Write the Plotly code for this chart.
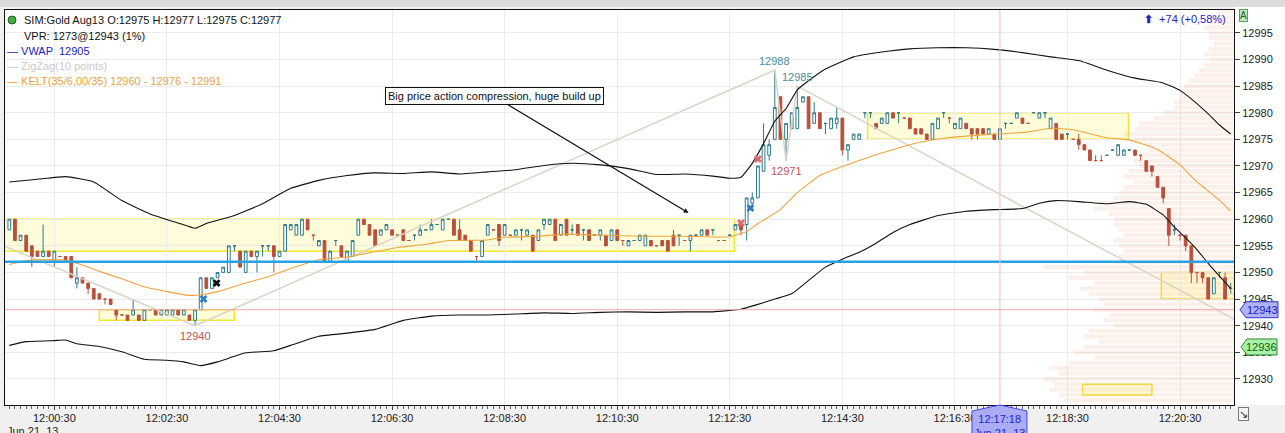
import pandas as pd
import plotly.graph_objects as go

DAY = "2013-06-21 "
START = pd.Timestamp(DAY + "11:59:42")
STEP = pd.Timedelta(seconds=6)

# 6 second bars, SIM:Gold Aug13
opens = [
    12958, 12960, 12956, 12957, 12955, 12954, 12953, 12954, 12952, 12953,
    12953, 12953, 12948, 12949, 12948, 12947, 12946, 12945, 12945, 12943,
    12942, 12942, 12942, 12942, 12941, 12943, 12943, 12942, 12942, 12942,
    12943, 12942, 12942, 12941, 12943, 12949, 12947, 12949, 12950, 12950,
    12955, 12954, 12950, 12954, 12953, 12955, 12955, 12955, 12953, 12954,
    12958, 12957, 12957, 12960, 12957, 12955, 12956, 12952, 12956, 12955,
    12952, 12953, 12957, 12960, 12959, 12958, 12957, 12958, 12958, 12957,
    12958, 12956, 12957, 12957, 12958, 12958, 12959, 12958, 12960, 12960,
    12958, 12957, 12956, 12953, 12953, 12957, 12958, 12959, 12957, 12957,
    12957, 12958, 12957, 12957, 12956, 12959, 12959, 12960, 12957, 12960,
    12958, 12959, 12958, 12958, 12957, 12957, 12957, 12956, 12958, 12956,
    12955, 12956, 12956, 12955, 12956, 12955, 12956, 12956, 12957, 12957,
    12956, 12956, 12957, 12957, 12958, 12958, 12956, 12956, 12957, 12958,
    12959, 12959, 12963, 12964, 12969, 12972, 12975, 12983, 12975, 12977,
    12977, 12982, 12983, 12978, 12980, 12978, 12977, 12978, 12979, 12973,
    12975, 12975, 12980, 12980, 12978, 12978, 12978, 12980, 12980, 12979,
    12979, 12977, 12977, 12976, 12975, 12977, 12980, 12979, 12977, 12977,
    12978, 12977, 12977, 12977, 12976, 12976, 12975, 12978, 12978, 12979,
    12979, 12978, 12980, 12979, 12980, 12977, 12978, 12976, 12976, 12975,
    12975, 12974, 12973, 12971, 12971, 12972, 12973, 12972, 12972, 12973,
    12973, 12972, 12971, 12970, 12968, 12966, 12962, 12958, 12957, 12957,
    12955, 12950, 12950, 12949, 12946, 12950, 12949, 12947,
]
highs = [
    12960, 12960, 12957, 12957, 12955, 12954, 12959, 12954, 12954, 12953,
    12953, 12953, 12951, 12949, 12948, 12947, 12946, 12945, 12945, 12943,
    12942, 12942, 12945, 12942, 12943, 12943, 12943, 12943, 12943, 12943,
    12943, 12943, 12942, 12943, 12949, 12949, 12949, 12950, 12951, 12955,
    12955, 12954, 12954, 12954, 12954, 12955, 12955, 12955, 12954, 12959,
    12959, 12959, 12960, 12960, 12957, 12956, 12956, 12954, 12956, 12955,
    12954, 12956, 12960, 12960, 12959, 12958, 12958, 12959, 12958, 12957,
    12958, 12956, 12957, 12959, 12958, 12960, 12959, 12960, 12960, 12960,
    12960, 12957, 12956, 12953, 12956, 12959, 12958, 12959, 12959, 12957,
    12958, 12958, 12958, 12957, 12958, 12960, 12960, 12960, 12959, 12960,
    12959, 12959, 12958, 12958, 12957, 12958, 12957, 12958, 12958, 12956,
    12956, 12956, 12957, 12957, 12956, 12955, 12956, 12956, 12958, 12957,
    12956, 12957, 12957, 12958, 12958, 12958, 12956, 12956, 12957, 12959,
    12959, 12964, 12965, 12970, 12978, 12975, 12988, 12983, 12978, 12980,
    12985, 12983, 12983, 12982, 12980, 12978, 12979, 12981, 12979, 12974,
    12976, 12976, 12980, 12980, 12978, 12979, 12980, 12980, 12980, 12979,
    12979, 12977, 12977, 12976, 12978, 12979, 12980, 12979, 12978, 12979,
    12978, 12977, 12977, 12977, 12977, 12976, 12977, 12978, 12978, 12980,
    12979, 12978, 12980, 12980, 12980, 12979, 12978, 12976, 12976, 12975,
    12976, 12974, 12973, 12972, 12972, 12972, 12973, 12974, 12973, 12973,
    12973, 12972, 12971, 12970, 12968, 12966, 12962, 12959, 12957, 12957,
    12955, 12950, 12950, 12949, 12949, 12950, 12950, 12948,
]
lows = [
    12958, 12956, 12956, 12954, 12951, 12953, 12953, 12953, 12951, 12953,
    12952, 12949, 12947, 12948, 12946, 12945, 12945, 12944, 12944, 12941,
    12942, 12941, 12942, 12941, 12941, 12943, 12942, 12942, 12942, 12942,
    12942, 12942, 12941, 12940, 12943, 12947, 12947, 12949, 12950, 12950,
    12954, 12951, 12950, 12953, 12950, 12953, 12954, 12950, 12953, 12954,
    12958, 12957, 12957, 12958, 12956, 12955, 12952, 12952, 12955, 12953,
    12952, 12953, 12957, 12959, 12957, 12955, 12957, 12958, 12957, 12957,
    12956, 12956, 12956, 12957, 12958, 12958, 12959, 12958, 12960, 12957,
    12956, 12956, 12954, 12952, 12953, 12957, 12958, 12955, 12957, 12957,
    12957, 12956, 12957, 12954, 12956, 12958, 12959, 12956, 12957, 12957,
    12957, 12957, 12956, 12956, 12957, 12956, 12955, 12956, 12956, 12955,
    12955, 12956, 12956, 12955, 12955, 12955, 12955, 12954, 12955, 12955,
    12956, 12954, 12957, 12957, 12957, 12957, 12956, 12956, 12957, 12958,
    12957, 12956, 12962, 12964, 12969, 12971, 12975, 12975, 12971, 12977,
    12977, 12982, 12977, 12978, 12977, 12976, 12977, 12977, 12972, 12971,
    12975, 12975, 12979, 12979, 12977, 12978, 12978, 12979, 12978, 12979,
    12977, 12976, 12976, 12975, 12975, 12977, 12979, 12978, 12977, 12977,
    12977, 12975, 12975, 12976, 12976, 12975, 12975, 12977, 12978, 12979,
    12978, 12978, 12980, 12979, 12979, 12977, 12975, 12975, 12975, 12975,
    12973, 12973, 12971, 12971, 12971, 12972, 12973, 12972, 12972, 12973,
    12972, 12971, 12969, 12968, 12966, 12963, 12955, 12957, 12956, 12954,
    12948, 12948, 12948, 12945, 12946, 12949, 12945, 12946,
]
closes = [
    12960, 12956, 12957, 12954, 12953, 12953, 12954, 12953, 12954, 12953,
    12952, 12949, 12949, 12948, 12947, 12945, 12945, 12945, 12944, 12942,
    12942, 12941, 12943, 12941, 12943, 12943, 12942, 12943, 12943, 12943,
    12942, 12943, 12941, 12943, 12949, 12947, 12949, 12950, 12951, 12955,
    12955, 12951, 12954, 12953, 12954, 12955, 12955, 12953, 12954, 12959,
    12959, 12959, 12960, 12958, 12957, 12956, 12952, 12954, 12956, 12953,
    12954, 12956, 12960, 12959, 12957, 12955, 12958, 12959, 12957, 12957,
    12956, 12956, 12957, 12958, 12958, 12959, 12959, 12960, 12960, 12957,
    12956, 12956, 12954, 12953, 12956, 12959, 12958, 12956, 12959, 12957,
    12958, 12958, 12958, 12954, 12958, 12960, 12960, 12956, 12959, 12957,
    12958, 12957, 12958, 12956, 12957, 12958, 12955, 12958, 12956, 12956,
    12956, 12956, 12957, 12957, 12955, 12955, 12955, 12954, 12955, 12957,
    12956, 12957, 12957, 12958, 12957, 12958, 12956, 12956, 12957, 12959,
    12958, 12964, 12964, 12970, 12974, 12974, 12981, 12975, 12978, 12980,
    12981, 12983, 12977, 12980, 12977, 12978, 12979, 12979, 12973, 12974,
    12976, 12976, 12980, 12980, 12977, 12979, 12980, 12979, 12980, 12979,
    12977, 12976, 12976, 12975, 12978, 12979, 12980, 12979, 12978, 12979,
    12977, 12976, 12976, 12976, 12977, 12975, 12977, 12978, 12978, 12980,
    12978, 12978, 12980, 12980, 12980, 12979, 12975, 12975, 12976, 12975,
    12974, 12973, 12971, 12971, 12971, 12972, 12973, 12974, 12973, 12973,
    12972, 12972, 12969, 12969, 12966, 12964, 12957, 12958, 12957, 12955,
    12950, 12950, 12949, 12945, 12949, 12950, 12945, 12947,
]

# Keltner channel (35/6.00/35), sampled at bar indices
upper_bars = [0, 5, 10, 15, 20, 25, 30, 33, 35, 40, 45, 50, 55, 60, 65, 70, 75, 80,
              85, 90, 95, 100, 105, 110, 115, 120, 125, 128, 130, 132, 134, 136, 138,
              140, 142, 145, 150, 155, 160, 165, 170, 175, 180, 185, 190, 195, 200,
              205, 208, 210, 213, 215, 217]
upper_vals = [12967, 12967.5, 12968, 12967, 12963.5, 12961, 12959.3, 12958.3, 12959.2,
              12960.7, 12962.9, 12965.8, 12967.3, 12968.2, 12968.7, 12968.6, 12968.9,
              12968.5, 12968.9, 12969.3, 12970.1, 12970.5, 12970.2, 12969.5, 12968.4,
              12968.5, 12968.1, 12967.7, 12967.9, 12970.5, 12974.2, 12978.4, 12980.8,
              12984.3, 12986, 12988.2, 12990.5, 12991.4, 12992, 12992.2, 12992.2,
              12991.9, 12991.3, 12990.5, 12989.8, 12988, 12986.5, 12985.6, 12984.2,
              12982.6, 12979.8, 12977.7, 12976]
mid_bars = [0, 3, 7, 10, 13, 16, 20, 24, 28, 32, 34, 37, 41, 46, 51, 55, 60, 64, 69,
            74, 78, 85, 88, 94, 99, 105, 113, 120, 128, 131, 133, 137, 140, 144, 148,
            154, 159, 162, 166, 171, 176, 181, 185, 189, 195, 199, 204, 208, 211, 215,
            217]
mid_vals = [12951.5, 12952.2, 12952.4, 12952.3, 12951.4, 12950.2, 12948.8, 12947.3,
            12946.4, 12945.7, 12945.8, 12946.4, 12947.7, 12949.2, 12951.1, 12952.4,
            12952.9, 12953.7, 12954.7, 12955.3, 12956, 12956.1, 12956.6, 12956.8,
            12957.2, 12957, 12956.8, 12956.8, 12956.7, 12957.7, 12959.2, 12961.8,
            12965, 12968.2, 12969.9, 12972.1, 12973.7, 12974.5, 12975.2, 12975.7,
            12976, 12976.4, 12977.1, 12976.8, 12975.3, 12974.9, 12973.1, 12970.2,
            12967, 12963.6, 12961.5]
lower_bars = [0, 3, 8, 10, 12, 16, 20, 24, 28, 31, 34, 37, 42, 47, 50, 55, 60, 65, 70,
              75, 80, 85, 90, 95, 100, 105, 110, 115, 120, 125, 130, 133, 136, 139, 142,
              145, 148, 151, 154, 157, 160, 165, 170, 175, 180, 183, 186, 190, 195, 199,
              202, 205, 207, 209, 211, 213, 215, 217]
lower_vals = [12936.3, 12937, 12937.2, 12937.3, 12936.6, 12936.1, 12935.1, 12933.7,
              12933.5, 12933.2, 12932.5, 12933.2, 12934.9, 12935.3, 12936.3, 12938,
              12938.6, 12939.3, 12941, 12941.8, 12942, 12942, 12942.2, 12942.4, 12942.3,
              12942.5, 12942.6, 12942.5, 12942.6, 12942.6, 12943.1, 12944, 12945, 12946,
              12948.5, 12951, 12952.5, 12953.8, 12955.5, 12957.5, 12959, 12960.7,
              12961.5, 12961.8, 12962, 12963, 12963.5, 12963.3, 12962.9, 12963.3,
              12962.8, 12960.8, 12958.5, 12956.5, 12954.3, 12951.7, 12949.3, 12947]

# ZigZag(10 points) pivots
zz_bars = [-1, 33, 136, 138, 140, 218]
zz_vals = [12955, 12940, 12988, 12971, 12985, 12941]
pivot_bars = [33, 136, 140, 138]
pivot_vals = [12940, 12988, 12985, 12971]
pivot_above = [False, True, True, False]

# session volume profile (VPR), one row per price
profile_prices = list(range(12999, 12925, -1))
profile_volume = [15, 20, 25, 30, 25, 25, 20, 25, 30, 25,
                  30, 35, 40, 45, 50, 55, 55, 60, 60, 70,
                  80, 95, 100, 110, 100, 90, 85, 95, 100, 95,
                  105, 110, 100, 110, 115, 120, 135, 140, 125, 120,
                  120, 115, 110, 120, 115, 110, 115, 120, 190, 150,
                  165, 140, 155, 145, 135, 130, 140, 125, 130, 120,
                  145, 150, 135, 150, 160, 140, 165, 185, 175, 190,
                  180, 185, 175, 170]

# drawn rectangles (start, end, low, high)
box_start = ["11:59:37", "12:01:18", "12:14:57", "12:20:10", "12:18:46"]
box_end = ["12:12:35", "12:03:42", "12:19:35", "12:21:28", "12:20:00"]
box_low = [12954, 12941, 12975, 12945, 12927]
box_high = [12960, 12943, 12980, 12950, 12929]

# trade markers
mark_times = ["12:03:09", "12:03:23", "12:12:42", "12:12:52", "12:13:00"]
mark_prices = [12945, 12948, 12959.3, 12962.1, 12971.3]
mark_colors = ["#2f7fc0", "#111111", "#e06a6a", "#2f7fc0", "#e06a6a"]

vwap_level = 12952
vpr_level = 12943
last_level = 12936
cursor_time = "12:17:18"

x_start = DAY + "11:59:37.4"
x_end = DAY + "12:21:27.5"

FONT = "Liberation Sans, Arial, sans-serif"
UP = "#2c7b88"
DOWN = "#b8503c"

# plot area in pixels
PL, PR, PT, PB = 5, 1234, 10, 405


def bt(i):
    return START + STEP * i


def px(x):
    return (x - PL) / (PR - PL)


def py(y):
    return (PB - y) / (PB - PT)


times = [bt(i) for i in range(len(opens))]

fig = go.Figure()

fig.add_trace(go.Bar(
    y=profile_prices, x=profile_volume, orientation="h", xaxis="x", yaxis="y",
    marker=dict(color="rgba(240,165,135,0.17)", line=dict(width=0)),
    hoverinfo="skip",
))

fig.add_trace(go.Scatter(
    x=[bt(b) for b in zz_bars], y=zz_vals, xaxis="x2", mode="lines",
    line=dict(color="#dad3c8", width=1.5), hoverinfo="skip",
))
fig.add_trace(go.Scatter(
    x=[bt(b) for b in upper_bars], y=upper_vals, xaxis="x2", mode="lines",
    line=dict(color="#111111", width=1.1, shape="spline", smoothing=0.4),
))
fig.add_trace(go.Scatter(
    x=[bt(b) for b in lower_bars], y=lower_vals, xaxis="x2", mode="lines",
    line=dict(color="#111111", width=1.1, shape="spline", smoothing=0.4),
))
fig.add_trace(go.Scatter(
    x=[bt(b) for b in mid_bars], y=mid_vals, xaxis="x2", mode="lines",
    line=dict(color="#eea43c", width=1.1, shape="spline", smoothing=0.4),
))

fig.add_trace(go.Candlestick(
    x=times, open=opens, high=highs, low=lows, close=closes, xaxis="x2",
    increasing=dict(line=dict(color=UP, width=1), fillcolor="white"),
    decreasing=dict(line=dict(color=DOWN, width=1), fillcolor=DOWN),
    whiskerwidth=0,
))

fig.add_trace(go.Scatter(
    x=[DAY + t for t in mark_times], y=mark_prices, xaxis="x2", mode="markers",
    marker=dict(symbol="x", size=7, color=mark_colors, line=dict(width=0)),
))

shapes = []
for s, e, lo, hi in zip(box_start, box_end, box_low, box_high):
    shapes.append(dict(
        type="rect", xref="x2", yref="y", x0=DAY + s, x1=DAY + e, y0=lo, y1=hi,
        fillcolor="rgba(255,250,170,0.45)", line=dict(color="#f2e531", width=1.5),
        layer="below",
    ))
shapes += [
    dict(type="line", xref="paper", yref="y", x0=0, x1=1, y0=vwap_level, y1=vwap_level,
         line=dict(color="#27a2e4", width=2.5)),
    dict(type="line", xref="paper", yref="y", x0=0, x1=1, y0=vpr_level, y1=vpr_level,
         line=dict(color="#f3aaaa", width=1)),
    dict(type="line", xref="x2", yref="paper", x0=DAY + cursor_time, x1=DAY + cursor_time,
         y0=0, y1=1, line=dict(color="#f5b8b8", width=1)),
    # top window strip
    dict(type="rect", xref="paper", yref="paper", x0=px(0), x1=px(1285), y0=py(7),
         y1=py(0), fillcolor="#dcdcdc", line=dict(width=0), layer="above"),
    # right axis area is white
    dict(type="rect", xref="paper", yref="paper", x0=1, x1=px(1285), y0=0,
         y1=py(7), fillcolor="white", line=dict(width=0), layer="below"),
    # price labels on the right axis
    dict(type="path", xref="paper", yref="y", xsizemode="pixel", ysizemode="pixel",
         xanchor=1, yanchor=vpr_level,
         path="M 6 0 L 12 8 L 44 8 L 44 -8 L 12 -8 Z",
         fillcolor="#aeb2f6", line=dict(color="#3434c8", width=1), layer="above"),
    dict(type="path", xref="paper", yref="y", xsizemode="pixel", ysizemode="pixel",
         xanchor=1, yanchor=last_level,
         path="M 7 0 L 13 8 L 43 8 L 43 -8 L 13 -8 Z",
         fillcolor="#a9f0a9", line=dict(color="#2e8a2e", width=1), layer="above"),
    # cursor time label
    dict(type="path", xref="x2", yref="paper", xsizemode="pixel", ysizemode="pixel",
         xanchor=DAY + cursor_time, yanchor=0,
         path="M 0 0 L 27 -6 L 27 -40 L -28 -40 L -28 -6 Z",
         fillcolor="#aaacf6", line=dict(color="#4646e6", width=1), layer="above"),
    # legend dot
    dict(type="circle", xref="paper", yref="paper", x0=px(8), x1=px(16), y0=py(24),
         y1=py(16), fillcolor="#3fae45", line=dict(color="#215c22", width=1)),
]

ann = []


def txt(x, y, text, color="#111", size=11, xanchor="left", **kw):
    ann.append(dict(xref="paper", yref="paper", x=px(x), y=py(y), text=text,
                    showarrow=False, xanchor=xanchor, yanchor="middle",
                    font=dict(family=FONT, size=size, color=color), **kw))


txt(22, 20, "SIM:Gold Aug13 O:12975 H:12977 L:12975 C:12977")
txt(22, 36, "VPR: 1273@12943 (1%)")
txt(5, 51, "— VWAP  12905", color="#1c1cc0")
txt(5, 66, "— ZigZag(10 points)", color="#c9c9c9")
txt(5, 81, "— KELT(35/6,00/35) 12960 - 12976 - 12991", color="#eba33e")
txt(1228, 19, "<b>⬆</b>  +74 (+0,58%)", color="#2424c4", xanchor="right")
txt(1243, 16, "A", color="#1d5e1d", size=10, xanchor="center",
    bgcolor="#bfeabf", bordercolor="#55a055", borderwidth=1, borderpad=0)
txt(1244, 414, "↘", color="#333", size=11, xanchor="center",
    bordercolor="#777", borderwidth=1, borderpad=0, bgcolor="#f4f4f4")
txt(5, 431, "Jun 21, 13", color="#222")
txt(494, 96.5, "Big price action compression, huge build up", xanchor="center",
    bgcolor="white", bordercolor="#111", borderwidth=1, borderpad=2)

ann.append(dict(xref="paper", yref="y", x=px(1262), y=vpr_level, text="12943",
                showarrow=False, xanchor="center",
                font=dict(family=FONT, size=11, color="#2020c0")))
ann.append(dict(xref="paper", yref="y", x=px(1261), y=last_level, text="12936",
                showarrow=False, xanchor="center",
                font=dict(family=FONT, size=11, color="#0d620d")))
ann.append(dict(xref="x2", yref="paper", x=DAY + cursor_time, y=0, yshift=-6,
                text="12:17:18<br>Jun 21, 13", showarrow=False, xanchor="center",
                yanchor="top", align="center",
                font=dict(family=FONT, size=11, color="#2424d0")))
# arrow from the note to the compression area
ann.append(dict(xref="x2", yref="y", x=DAY + "12:11:46", y=12961.2, ax=-182, ay=-109,
                text="", showarrow=True, arrowhead=2, arrowsize=0.8, arrowwidth=1.2,
                arrowcolor="#111"))

for b, v, above in zip(pivot_bars, pivot_vals, pivot_above):
    ann.append(dict(xref="x2", yref="y", x=bt(b), y=v, text=str(v), showarrow=False,
                    yshift=9 if above else -10, xanchor="center",
                    font=dict(family=FONT, size=11,
                              color="#4b8da2" if above else "#c25454")))

fig.update_layout(
    width=1285, height=433,
    margin=dict(l=PL, r=1285 - PR, t=PT, b=433 - PB),
    paper_bgcolor="#f0f0f0", plot_bgcolor="white",
    showlegend=False, bargap=0.18, boxgap=0.3,
    font=dict(family=FONT, size=11, color="#222"),
    xaxis=dict(range=[PR - PL, 0], visible=False, fixedrange=True),
    xaxis2=dict(
        overlaying="x", anchor="y", side="bottom", type="date",
        range=[x_start, x_end], rangeslider=dict(visible=False),
        tick0=DAY + "12:00:30", dtick=120000, tickformat="%H:%M:%S",
        ticks="outside", ticklen=4, tickcolor="#444", ticklabelstandoff=-1,
        minor=dict(dtick=6000, ticks="outside", ticklen=3, tickcolor="#666",
                   showgrid=False),
        showgrid=True, gridcolor="#ececec", gridwidth=1,
        showline=True, linecolor="#111", linewidth=1, mirror=True,
        zeroline=False, tickfont=dict(size=11, color="#222"),
    ),
    yaxis=dict(
        side="right", range=[12925.1, 12999.3], tick0=12930, dtick=5,
        tickformat="d",
        ticks="outside", ticklen=5, tickcolor="#444",
        showgrid=True, gridcolor="#ececec", gridwidth=1,
        showline=True, linecolor="#111", linewidth=1, mirror=True,
        zeroline=False, tickfont=dict(size=11, color="#222"),
    ),
    shapes=shapes, annotations=ann,
)

fig.write_html(
    "out.html",
    config={"displayModeBar": False},
    post_script="document.body.style.margin='0';document.body.style.overflow='hidden';",
)
